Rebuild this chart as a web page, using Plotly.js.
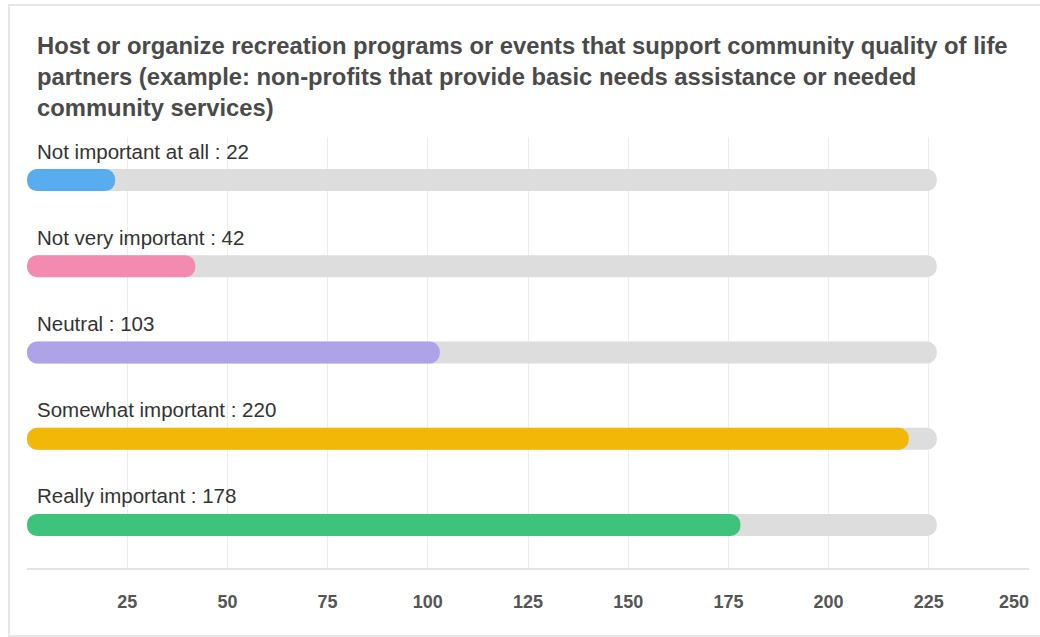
<!DOCTYPE html>
<html>
<head>
<meta charset="utf-8">
<script src="https://cdn.plot.ly/plotly-3.0.1.min.js"></script>
<style>html,body{margin:0;padding:0;background:#fff;}#chart{width:1040px;height:637px;}</style>
</head>
<body>
<div id="chart"></div>
<script>
const categories = ["Not important at all", "Not very important", "Neutral", "Somewhat important", "Really important"];
const counts = [22, 42, 103, 220, 178];
const colors = ["#58adef", "#f38bb0", "#aea3e6", "#f2b807", "#3ec37c"];
const trackMax = 227;
const tickValues = [0, 25, 50, 75, 100, 125, 150, 175, 200, 225, 250];
const tickLabels = ["", "25", "50", "75", "100", "125", "150", "175", "200", "225", ""];
const lastTickLabel = "250";
const titleText = "Host or organize recreation programs or events that support community quality of life<br>partners (example: non-profits that provide basic needs assistance or needed<br>community services)";

const FONT = 'Liberation Sans, Arial, Helvetica, sans-serif';
const barWidth = 0.255;
const barStart = 0.01; // a floating base so that both ends of each bar are rounded

function roundBar(vals, cols, axis, name) {
  return {
    type: 'bar', orientation: 'h', y: categories, yaxis: axis, width: barWidth,
    base: vals.map(() => barStart), x: vals.map(v => v - barStart),
    hoverinfo: 'skip', showlegend: false, name: name,
    marker: {color: cols, cornerradius: '50%', line: {width: 0}}
  };
}
const traces = [
  roundBar(categories.map(() => trackMax), categories.map(() => '#dddddd'), 'y', 'track'),
  roundBar(counts, colors, 'y2', 'value')
];

const annotations = categories.map((c, i) => ({
  x: 0, y: c, xref: 'x', yref: 'y', xanchor: 'left', yanchor: 'middle',
  xshift: 8, yshift: 29, showarrow: false,
  text: c + ' : ' + counts[i],
  font: {family: FONT, size: 20.5, color: '#333333'}
}));
annotations.push({
  x: tickValues[tickValues.length - 1], y: 0, xref: 'x', yref: 'paper',
  xanchor: 'right', yanchor: 'middle', xshift: 2, yshift: -34, showarrow: false,
  text: '<b>' + lastTickLabel + '</b>',
  font: {family: FONT, size: 18, color: '#555555'}
});

const catAxis = extra => Object.assign({
  categoryorder: 'array', categoryarray: categories, autorange: 'reversed',
  showticklabels: false, showgrid: false, zeroline: false, showline: false, fixedrange: true
}, extra || {});

const layout = {
  width: 1040, height: 637,
  margin: {l: 27, r: 11, t: 137, b: 69},
  paper_bgcolor: '#ffffff', plot_bgcolor: '#ffffff',
  barmode: 'overlay',
  title: {
    text: titleText, xref: 'container', yref: 'container',
    x: 37 / 1040, xanchor: 'left', y: 1 - 54 / 637, yanchor: 'top',
    font: {family: FONT, size: 23.8, color: '#4a4a4a', weight: 'bold'}
  },
  xaxis: {
    range: [0, 250], tickvals: tickValues, ticktext: tickLabels,
    showgrid: true, gridcolor: '#ececec', gridwidth: 1, zeroline: false,
    showline: true, linecolor: '#e4e4e4', linewidth: 2,
    ticks: '', ticklabelstandoff: 16, fixedrange: true,
    tickfont: {family: FONT, size: 18, color: '#555555', weight: 'bold'}
  },
  yaxis: catAxis(),
  yaxis2: catAxis({overlaying: 'y', matches: 'y'}),
  annotations: annotations,
  shapes: [{
    type: 'rect', xref: 'paper', yref: 'paper', layer: 'below',
    x0: (9 - 27) / 1002, x1: 1.05, y0: -(636 - 568) / 431, y1: 1 + (137 - 5) / 431,
    line: {color: '#e6e6e6', width: 2}, fillcolor: 'rgba(0,0,0,0)'
  }],
  hovermode: false
};

Plotly.newPlot('chart', traces, layout, {displayModeBar: false, staticPlot: true});
</script>
</body>
</html>
